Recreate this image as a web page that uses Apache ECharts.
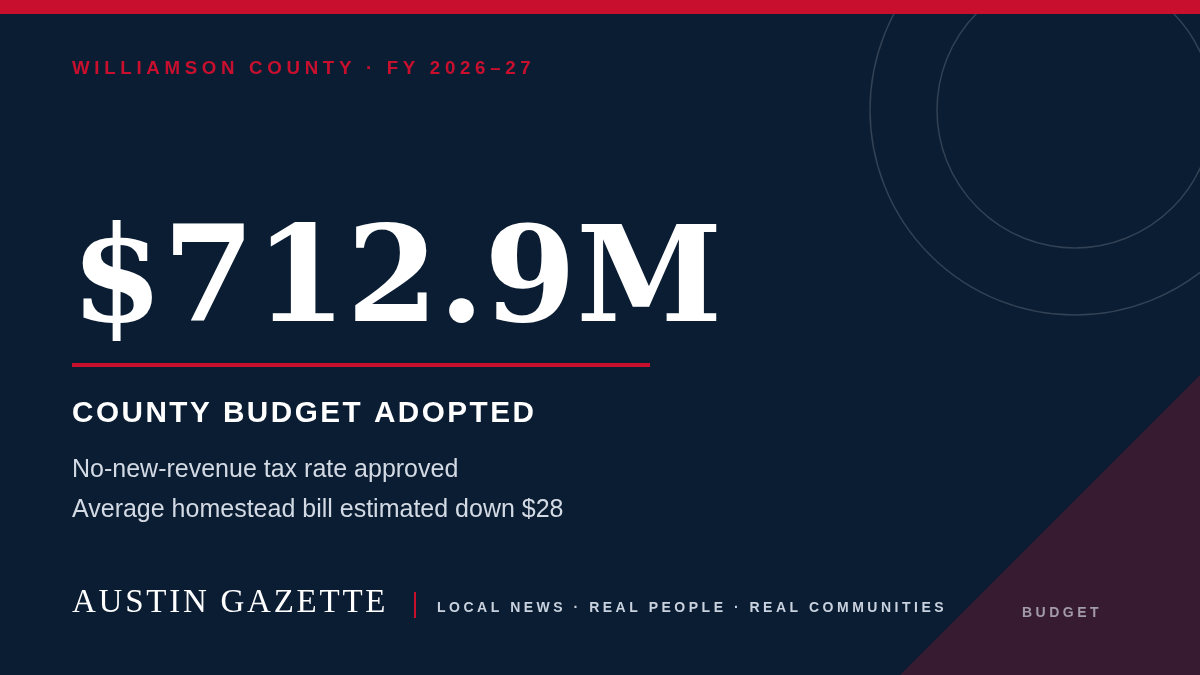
<!DOCTYPE html>
<html>
<head>
<meta charset="utf-8">
<script src="https://cdn.jsdelivr.net/npm/echarts@6/dist/echarts.min.js"></script>
<style>
html, body { margin: 0; padding: 0; background: #0b1d33; }
#main { width: 1200px; height: 675px; }
</style>
</head>
<body>
<div id="main"></div>
<script>
var kicker = "WILLIAMSON COUNTY · FY 2026–27";
var budgetValue = 712.9; // 百万美元
var headline = "COUNTY BUDGET ADOPTED";
var notes = ["No-new-revenue tax rate approved", "Average homestead bill estimated down $28"];
var brand = "AUSTIN GAZETTE";
var tagline = "LOCAL NEWS · REAL PEOPLE · REAL COMMUNITIES";
var section = "BUDGET";

// 字间距：用细空格拉开
function spaced(str, n) {
	var gap = new Array(n + 1).join("\u200A");
	return str.split("").join(gap);
}

var sans = "Liberation Sans, Arial, sans-serif";
var serif = "DejaVu Serif, serif";

var elements = [
	{ type: 'rect', shape: { x: 0, y: 0, width: 1200, height: 675 }, style: { fill: '#0b1d33' } },
	{ type: 'polygon', shape: { points: [[900, 675], [1200, 375], [1200, 675]] }, style: { fill: '#361b31' } },
	{ type: 'circle', shape: { cx: 1075, cy: 110, r: 205 }, style: { fill: 'none', stroke: 'rgba(255,255,255,0.16)', lineWidth: 1.5 } },
	{ type: 'circle', shape: { cx: 1075, cy: 110, r: 138 }, style: { fill: 'none', stroke: 'rgba(255,255,255,0.16)', lineWidth: 1.5 } },
	{ type: 'rect', shape: { x: 0, y: 0, width: 1200, height: 14 }, style: { fill: '#c8102e' } },
	{ type: 'text', x: 72, y: 69, style: { text: spaced(kicker, 3), fill: '#c8102e', font: 'bold 18.7px ' + sans, textVerticalAlign: 'middle' } },
	{ type: 'text', x: 71, y: 353, style: { text: '$' + budgetValue.toFixed(1) + 'M', fill: '#ffffff', font: 'bold 132px ' + serif, textVerticalAlign: 'bottom' } },
	{ type: 'rect', shape: { x: 72, y: 363, width: 578, height: 4 }, style: { fill: '#c8102e' } },
	{ type: 'text', x: 72, y: 414, style: { text: spaced(headline, 1), fill: '#ffffff', font: 'bold 29.7px ' + sans, textVerticalAlign: 'middle' } },
	{ type: 'text', x: 72, y: 470, style: { text: notes[0], fill: '#d3dae4', font: '25px ' + sans, textVerticalAlign: 'middle' } },
	{ type: 'text', x: 72, y: 510, style: { text: notes[1], fill: '#d3dae4', font: '25px ' + sans, textVerticalAlign: 'middle' } },
	{ type: 'text', x: 72, y: 603, style: { text: spaced(brand, 1), fill: '#ffffff', font: '33px Liberation Serif, serif', textVerticalAlign: 'middle' } },
	{ type: 'rect', shape: { x: 414, y: 592, width: 2, height: 26 }, style: { fill: '#c8102e' } },
	{ type: 'text', x: 437, y: 608, style: { text: spaced(tagline, 3), fill: '#c9d2de', font: 'bold 14px ' + sans, textVerticalAlign: 'middle' } },
	{ type: 'text', x: 1022, y: 613, style: { text: spaced(section, 3), fill: '#a39ba8', font: 'bold 14px ' + sans, textVerticalAlign: 'middle' } }
];

var myChart = echarts.init(document.getElementById('main'));
myChart.setOption({ animation: false, graphic: { elements: elements } });
</script>
</body>
</html>
